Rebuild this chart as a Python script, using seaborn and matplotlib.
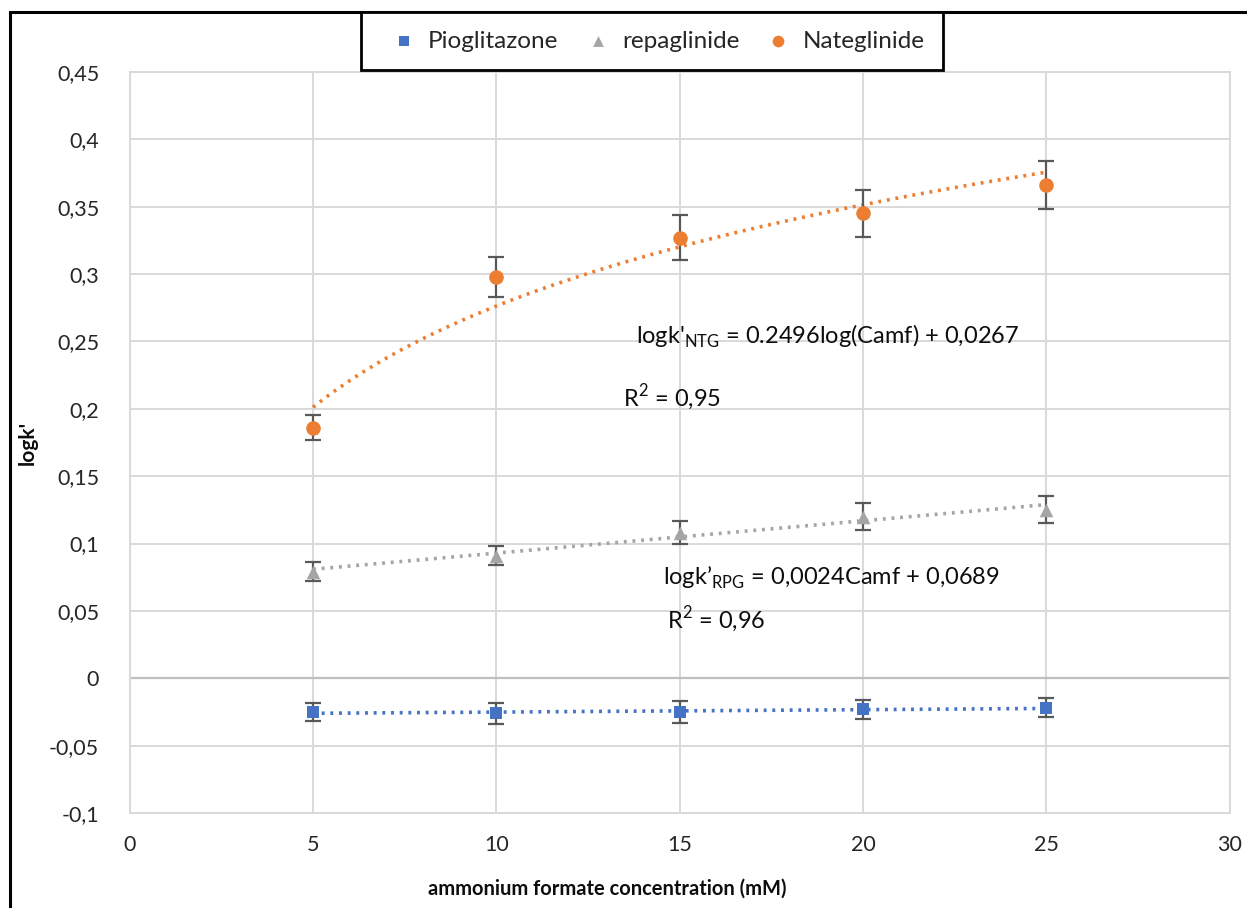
import numpy as np
import pandas as pd
import matplotlib
matplotlib.use("Agg")
import matplotlib.pyplot as plt
from matplotlib.patches import Rectangle
import seaborn as sns

# Ammonium formate concentration (mM)
conc = [5, 10, 15, 20, 25]

# logk' values and error bars for each drug
pioglitazone = [-0.025, -0.026, -0.025, -0.023, -0.022]
pioglitazone_err = [0.007, 0.008, 0.008, 0.007, 0.007]
repaglinide = [0.079, 0.091, 0.108, 0.120, 0.125]
repaglinide_err = [0.007, 0.007, 0.0085, 0.010, 0.010]
nateglinide = [0.186, 0.298, 0.327, 0.345, 0.366]
nateglinide_err = [0.0095, 0.015, 0.0165, 0.0175, 0.018]

# Trend line coefficients
ntg_slope, ntg_intercept = 0.2496, 0.0267   # logk' = a*log10(C) + b
rpg_slope, rpg_intercept = 0.0024, 0.0689   # logk' = a*C + b

series_names = ["Pioglitazone", "repaglinide", "Nateglinide"]
colors = {"Pioglitazone": "#4472C4", "repaglinide": "#A5A5A5", "Nateglinide": "#ED7D31"}
markers = {"Pioglitazone": "s", "repaglinide": "^", "Nateglinide": "o"}
sizes = {"Pioglitazone": 80, "repaglinide": 95, "Nateglinide": 110}

x_ticks = [0, 5, 10, 15, 20, 25, 30]
y_ticks = [-0.1, -0.05, 0, 0.05, 0.1, 0.15, 0.2, 0.25, 0.3, 0.35, 0.4, 0.45]

sns.set_theme(style="whitegrid")
plt.rcParams["font.family"] = ["Lato", "DejaVu Sans"]
plt.rcParams["mathtext.fontset"] = "custom"
plt.rcParams["mathtext.rm"] = "Lato"

fig = plt.figure(figsize=(12.47, 9.08), dpi=100)
ax = fig.add_axes([129.7 / 1247, 1 - 813 / 908, 1100 / 1247, 741 / 908])

df = pd.DataFrame({
    "conc": conc * 3,
    "logk": pioglitazone + repaglinide + nateglinide,
    "err": pioglitazone_err + repaglinide_err + nateglinide_err,
    "drug": [n for n in series_names for _ in conc],
})

# Trend lines
xs = np.linspace(5, 25, 200)
pio_fit = np.polyfit(conc, pioglitazone, 1)
trends = {
    "Pioglitazone": np.polyval(pio_fit, xs),
    "repaglinide": rpg_slope * xs + rpg_intercept,
    "Nateglinide": ntg_slope * np.log10(xs) + ntg_intercept,
}
for name in series_names:
    sns.lineplot(x=xs, y=trends[name], ax=ax, color=colors[name],
                 linestyle=(0, (0.8, 1.6)), linewidth=2.6, zorder=3)

# Error bars
for name in series_names:
    sub = df[df["drug"] == name]
    ax.errorbar(sub["conc"], sub["logk"], yerr=sub["err"], fmt="none",
                ecolor="#595959", elinewidth=1.6, capsize=5.5, capthick=1.6, zorder=4)

# Data points
for name in series_names:
    sub = df[df["drug"] == name]
    sns.scatterplot(data=sub, x="conc", y="logk", ax=ax, color=colors[name],
                    marker=markers[name], s=sizes[name], edgecolor=colors[name],
                    linewidth=0, zorder=5, label=name, legend=False)

ax.set_xlim(0, 30)
ax.set_ylim(-0.1, 0.45)
ax.set_xticks(x_ticks)
ax.set_yticks(y_ticks)
ax.set_xticklabels([str(v) for v in x_ticks])
ax.set_yticklabels([f"{v:g}".replace(".", ",") for v in y_ticks])
ax.tick_params(axis="both", length=0, labelsize=15.5, colors="#262626")
ax.tick_params(axis="x", pad=16)
ax.tick_params(axis="y", pad=22)
ax.grid(True, color="#d9d9d9", linewidth=1.4)
ax.axhline(0, color="#bfbfbf", linewidth=1.6, zorder=1)
for sp in ax.spines.values():
    sp.set_color("#d9d9d9")
    sp.set_linewidth(1.4)

ax.set_xlabel("ammonium formate concentration (mM)", fontsize=14.5, fontweight="bold",
              color="#0d0d0d", labelpad=14)
ax.xaxis.set_label_coords((607 - 129.7) / 1100, -0.088)
ax.set_ylabel("logk'", fontsize=15, fontweight="bold", color="#0d0d0d", labelpad=8)

# Regression equations
ax.text(13.8, 0.2535, r"logk'$_{\mathregular{NTG}}$ = 0.2496log(Camf) + 0,0267",
        fontsize=17, color="#0d0d0d", va="center", ha="left")
ax.text(13.45, 0.208, r"R$^{\mathregular{2}}$ = 0,95", fontsize=17, color="#0d0d0d",
        va="center", ha="left")
ax.text(14.55, 0.0745, r"logk’$_{\mathregular{RPG}}$ = 0,0024Camf + 0,0689",
        fontsize=17, color="#0d0d0d", va="center", ha="left")
ax.text(14.65, 0.043, r"R$^{\mathregular{2}}$ = 0,96", fontsize=17, color="#0d0d0d",
        va="center", ha="left")

# Legend across the top
handles, labels = ax.get_legend_handles_labels()
leg = fig.legend(handles, labels, loc="center", ncol=3,
                 bbox_to_anchor=(652 / 1247, 1 - 41 / 908),
                 frameon=True, fancybox=False, fontsize=17.5, handletextpad=0.0,
                 columnspacing=0.6, borderpad=0.75, markerscale=0.8)
leg.get_frame().set_edgecolor("black")
leg.get_frame().set_linewidth(2)
leg.get_frame().set_alpha(1)

# Outer chart frame
fig.patches.append(Rectangle((10 / 1247, -0.1), 1.2, 1.1 - 12 / 908,
                             transform=fig.transFigure, fill=False,
                             edgecolor="black", linewidth=2.2, zorder=0))

fig.savefig("out.png", dpi=100, facecolor="white")
